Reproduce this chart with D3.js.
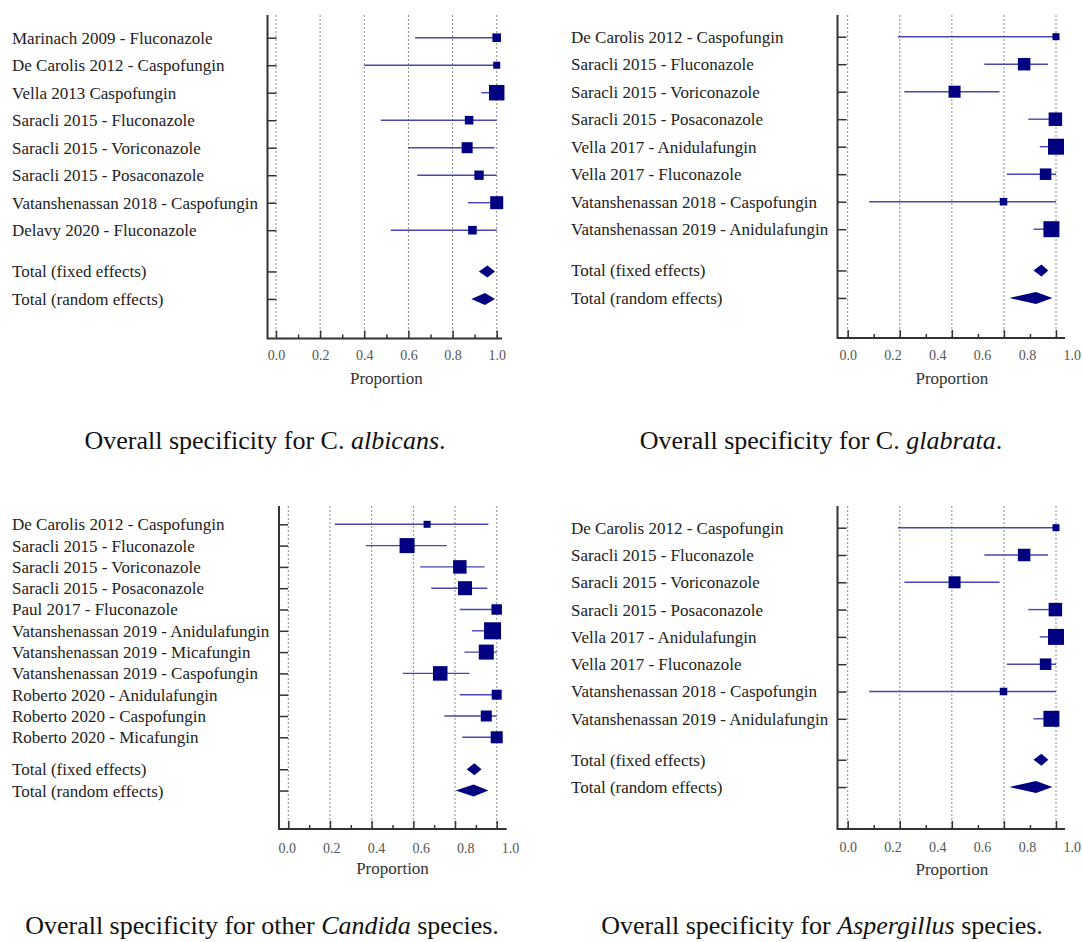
<!DOCTYPE html>
<html>
<head>
<meta charset="utf-8">
<script src="https://cdn.jsdelivr.net/npm/d3@7"></script>
<style>
  body { margin: 0; background: #fff; }
  svg { display: block; }
  .study { font-family: 'Liberation Serif', serif; font-size: 17px; fill: #222; }
  .ticklab { font-family: 'Liberation Serif', serif; font-size: 14px; fill: #555; }
  .axtitle { font-family: 'Liberation Serif', serif; font-size: 17px; fill: #333; }
  .caption { font-family: 'Liberation Serif', serif; font-size: 26px; fill: #111; }
</style>
</head>
<body>
<svg id="chart" width="1083" height="942"></svg>
<script>
// ---- C. albicans ----
const albicansStudies = [
  'Marinach 2009 - Fluconazole',
  'De Carolis 2012 - Caspofungin',
  'Vella 2013 Caspofungin',
  'Saracli 2015 - Fluconazole',
  'Saracli 2015 - Voriconazole',
  'Saracli 2015 - Posaconazole',
  'Vatanshenassan 2018 - Caspofungin',
  'Delavy 2020 - Fluconazole'
];
const albicansEst = [1.0, 1.0, 1.0, 0.875, 0.866, 0.92, 1.0, 0.89];
const albicansLow = [0.63, 0.40, 0.93, 0.475, 0.60, 0.64, 0.87, 0.52];
const albicansHigh = [1.0, 1.0, 1.0, 1.0, 0.99, 1.0, 1.0, 1.0];
const albicansWeight = [5.1, 3.4, 16.6, 5.1, 8.4, 6.0, 11.7, 5.1];
const albicansFixed = [0.958, 0.919, 0.992];   // estimate, low, high
const albicansRandom = [0.947, 0.885, 0.992];

// ---- C. glabrata ----
const glabrataStudies = [
  'De Carolis 2012 - Caspofungin',
  'Saracli 2015 - Fluconazole',
  'Saracli 2015 - Voriconazole',
  'Saracli 2015 - Posaconazole',
  'Vella 2017 - Anidulafungin',
  'Vella 2017 - Fluconazole',
  'Vatanshenassan 2018 - Caspofungin',
  'Vatanshenassan 2019 - Anidulafungin'
];
const glabrataEst = [1.0, 0.847, 0.513, 0.997, 1.0, 0.95, 0.748, 0.978];
const glabrataLow = [0.241, 0.656, 0.272, 0.867, 0.922, 0.764, 0.103, 0.892];
const glabrataHigh = [1.0, 0.962, 0.729, 1.0, 1.0, 1.0, 1.0, 1.0];
const glabrataWeight = [3.4, 10.8, 10.0, 12.6, 17.7, 9.2, 3.9, 17.7];
const glabrataFixed = [0.930, 0.892, 0.963];
const glabrataRandom = [0.904, 0.776, 0.983];

// ---- other Candida ----
const candidaStudies = [
  'De Carolis 2012 - Caspofungin',
  'Saracli 2015 - Fluconazole',
  'Saracli 2015 - Voriconazole',
  'Saracli 2015 - Posaconazole',
  'Paul 2017 - Fluconazole',
  'Vatanshenassan 2019 - Anidulafungin',
  'Vatanshenassan 2019 - Micafungin',
  'Vatanshenassan 2019 - Caspofungin',
  'Roberto 2020 - Anidulafungin',
  'Roberto 2020 - Caspofungin',
  'Roberto 2020 - Micafungin'
];
const candidaEst = [0.666, 0.570, 0.823, 0.848, 1.0, 0.98, 0.95, 0.729, 1.0, 0.95, 1.0];
const candidaLow = [0.223, 0.372, 0.633, 0.686, 0.823, 0.881, 0.845, 0.550, 0.823, 0.749, 0.835];
const candidaHigh = [0.960, 0.760, 0.942, 0.955, 1.0, 1.0, 1.0, 0.869, 1.0, 1.0, 1.0];
const candidaWeight = [3.4, 15.6, 12.6, 13.6, 7.6, 20.0, 15.6, 14.6, 6.9, 8.4, 10.0];
const candidaFixed = [0.893, 0.856, 0.927];
const candidaRandom = [0.889, 0.803, 0.960];

// ---- Aspergillus ----
const aspergillusStudies = [
  'De Carolis 2012 - Caspofungin',
  'Saracli 2015 - Fluconazole',
  'Saracli 2015 - Voriconazole',
  'Saracli 2015 - Posaconazole',
  'Vella 2017 - Anidulafungin',
  'Vella 2017 - Fluconazole',
  'Vatanshenassan 2018 - Caspofungin',
  'Vatanshenassan 2019 - Anidulafungin'
];
const aspergillusEst = [1.0, 0.847, 0.513, 0.997, 1.0, 0.95, 0.748, 0.978];
const aspergillusLow = [0.241, 0.656, 0.272, 0.867, 0.922, 0.764, 0.103, 0.892];
const aspergillusHigh = [1.0, 0.962, 0.729, 1.0, 1.0, 1.0, 1.0, 1.0];
const aspergillusWeight = [3.4, 10.8, 10.0, 12.6, 17.7, 9.2, 3.9, 17.7];
const aspergillusFixed = [0.930, 0.892, 0.963];
const aspergillusRandom = [0.904, 0.776, 0.983];

const tickLabels = [0, 0.2, 0.4, 0.6, 0.8, 1.0];
const pooledLabels = ['Total (fixed effects)', 'Total (random effects)'];

const svg = d3.select('#chart');

const panels = [
  {
    studies: albicansStudies, est: albicansEst, low: albicansLow, high: albicansHigh,
    weight: albicansWeight, fixed: albicansFixed, random: albicansRandom,
    labelX: 12, axisX: 267.5, grid: [276, 496.7], axisEnd: 502, labRange: [276, 496.7],
    majors: [0, 0.2, 0.4, 0.6, 0.8, 1], minors: [0.1, 0.3, 0.5, 0.7, 0.9],
    yTop: 15, yBottom: 338.5, row0: 37.7, rowStep: 27.5, tickY: 355, titleY: 378,
    caption: ['Overall specificity for C. ', 'albicans', '.'], capX: 265, capY: 440
  },
  {
    studies: glabrataStudies, est: glabrataEst, low: glabrataLow, high: glabrataHigh,
    weight: glabrataWeight, fixed: glabrataFixed, random: glabrataRandom,
    labelX: 571, axisX: 837.5, grid: [847.7, 1056], axisEnd: 1065, labRange: [847.7, 1071.7],
    majors: [0, 0.25, 0.5, 0.75, 1], minors: [0.125, 0.375, 0.625, 0.875],
    yTop: 15, yBottom: 338, row0: 36.7, rowStep: 27.5, tickY: 355, titleY: 378,
    caption: ['Overall specificity for C. ', 'glabrata', '.'], capX: 821, capY: 440
  },
  {
    studies: candidaStudies, est: candidaEst, low: candidaLow, high: candidaHigh,
    weight: candidaWeight, fixed: candidaFixed, random: candidaRandom,
    labelX: 12, axisX: 279, grid: [288.3, 496.7], axisEnd: 506.7, labRange: [286.7, 510],
    majors: [0, 0.2, 0.4, 0.6, 0.8, 1], minors: [0.1, 0.3, 0.5, 0.7, 0.9],
    yTop: 506, yBottom: 829, row0: 524.3, rowStep: 21.3, tickY: 848, titleY: 868,
    caption: ['Overall specificity for other ', 'Candida', ' species.'], capX: 262, capY: 925
  },
  {
    studies: aspergillusStudies, est: aspergillusEst, low: aspergillusLow, high: aspergillusHigh,
    weight: aspergillusWeight, fixed: aspergillusFixed, random: aspergillusRandom,
    labelX: 571, axisX: 837.5, grid: [847.7, 1056], axisEnd: 1065, labRange: [847.7, 1071.7],
    majors: [0, 0.25, 0.5, 0.75, 1], minors: [0.125, 0.375, 0.625, 0.875],
    yTop: 506, yBottom: 829, row0: 527.7, rowStep: 27.3, tickY: 847, titleY: 869,
    caption: ['Overall specificity for ', 'Aspergillus', ' species.'], capX: 822, capY: 925
  }
];

const markerColor = '#000080';
const ciColor = '#4646b4';

function drawForest(p) {
  const n = p.studies.length;
  const x = d3.scaleLinear().domain([0, 1]).range(p.grid);
  const xLab = d3.scaleLinear().domain([0, 1]).range(p.labRange);
  const y = d3.scaleLinear().domain([0, 1]).range([p.row0, p.row0 + p.rowStep]);
  const side = d3.scaleSqrt().domain([0, 20]).range([0, 17]);

  const rows = p.studies.map((s, i) => ({
    label: s, est: p.est[i], low: p.low[i], high: p.high[i], w: p.weight[i], idx: i
  }));
  const pooled = [p.fixed, p.random].map((v, i) => ({
    label: pooledLabels[i], est: v[0], low: v[1], high: v[2], idx: n + 0.5 + i
  }));

  const g = svg.append('g');

  // dotted vertical gridlines
  g.selectAll('.grid').data(p.majors).join('line')
    .attr('class', 'grid')
    .attr('x1', d => x(d)).attr('x2', d => x(d))
    .attr('y1', p.yTop).attr('y2', p.yBottom)
    .attr('stroke', '#8c8c8c').attr('stroke-width', 1)
    .attr('stroke-dasharray', '2,2');

  // row ticks on the left axis
  g.append('g')
    .attr('transform', `translate(${p.axisX},0)`)
    .style('color', '#333')
    .call(d3.axisRight(y).tickValues(rows.concat(pooled).map(d => d.idx)).tickSize(9).tickFormat(''))
    .call(a => a.select('.domain').remove())
    .call(a => a.selectAll('line').attr('stroke-width', 1.5));

  // x ticks pointing up
  g.append('g')
    .attr('transform', `translate(0,${p.yBottom})`)
    .style('color', '#333')
    .call(d3.axisTop(x).tickValues(p.majors).tickSize(8).tickFormat(''))
    .call(a => a.select('.domain').remove())
    .call(a => a.selectAll('line').attr('stroke-width', 1.5));
  g.append('g')
    .attr('transform', `translate(0,${p.yBottom})`)
    .style('color', '#333')
    .call(d3.axisTop(x).tickValues(p.minors).tickSize(4).tickFormat(''))
    .call(a => a.select('.domain').remove())
    .call(a => a.selectAll('line').attr('stroke-width', 1.5));

  // axis frame
  g.append('path')
    .attr('d', `M${p.axisX},${p.yTop}V${p.yBottom}H${p.axisEnd}`)
    .attr('fill', 'none').attr('stroke', '#333').attr('stroke-width', 2);

  // tick labels
  g.append('g')
    .attr('transform', `translate(0,${p.tickY})`)
    .call(d3.axisBottom(xLab).tickValues(tickLabels).tickSize(0).tickFormat(d3.format('.1f')))
    .call(a => a.select('.domain').remove())
    .call(a => a.selectAll('text')
      .attr('class', 'ticklab').attr('y', 0).attr('dy', '0.35em')
      .attr('fill', null).attr('font-size', null).attr('font-family', null));

  g.append('text')
    .attr('class', 'axtitle')
    .attr('x', (p.grid[0] + p.grid[1]) / 2).attr('y', p.titleY).attr('dy', '0.35em')
    .attr('text-anchor', 'middle')
    .text('Proportion');

  // study labels
  g.selectAll('.study').data(rows.concat(pooled)).join('text')
    .attr('class', 'study')
    .attr('x', p.labelX).attr('y', d => y(d.idx)).attr('dy', '0.35em')
    .text(d => d.label);

  // confidence intervals
  g.selectAll('.ci').data(rows).join('line')
    .attr('class', 'ci')
    .attr('x1', d => x(d.low)).attr('x2', d => x(d.high))
    .attr('y1', d => y(d.idx)).attr('y2', d => y(d.idx))
    .attr('stroke', ciColor).attr('stroke-width', 1.4);

  // weighted squares
  g.selectAll('.pt').data(rows).join('rect')
    .attr('class', 'pt')
    .attr('x', d => x(d.est) - side(d.w) / 2)
    .attr('y', d => y(d.idx) - side(d.w) / 2)
    .attr('width', d => side(d.w)).attr('height', d => side(d.w))
    .attr('fill', markerColor);

  // pooled diamonds
  const dh = 6;
  g.selectAll('.pooled').data(pooled).join('path')
    .attr('class', 'pooled')
    .attr('d', d => {
      const cy = y(d.idx);
      return `M${x(d.low)},${cy}L${x(d.est)},${cy - dh}L${x(d.high)},${cy}L${x(d.est)},${cy + dh}Z`;
    })
    .attr('fill', markerColor);

  // caption
  const cap = svg.append('text')
    .attr('class', 'caption')
    .attr('x', p.capX).attr('y', p.capY).attr('dy', '0.35em')
    .attr('text-anchor', 'middle');
  p.caption.forEach((t, i) => {
    cap.append('tspan').attr('font-style', i === 1 ? 'italic' : 'normal').text(t);
  });
}

panels.forEach(drawForest);
</script>
</body>
</html>
